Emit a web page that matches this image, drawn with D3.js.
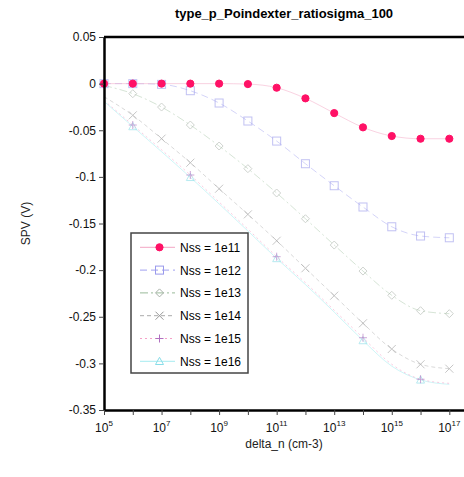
<!DOCTYPE html>
<html><head><meta charset="utf-8">
<script src="https://cdn.jsdelivr.net/npm/d3@7"></script>
<style>body{margin:0;background:#fff}svg{display:block;font-family:"Liberation Sans",Arial,sans-serif}</style>
</head><body><svg id="c" width="464" height="477"></svg>
<script>
const exponents = [5,6,7,8,9,10,11,12,13,14,15,16,17];
const seriesNames = ["Nss = 1e11","Nss = 1e12","Nss = 1e13","Nss = 1e14","Nss = 1e15","Nss = 1e16"];
const nss11 = [0,0,0,0,0,-0.0005,-0.0044,-0.0158,-0.0316,-0.0469,-0.0562,-0.0591,-0.0591];
const nss12 = [0,0,-0.0008,-0.0076,-0.0208,-0.0401,-0.0616,-0.0859,-0.1095,-0.1323,-0.1535,-0.1634,-0.1653];
const nss13 = [-0.002,-0.0108,-0.0251,-0.0444,-0.0669,-0.0912,-0.1173,-0.1449,-0.1731,-0.201,-0.227,-0.2435,-0.2467];
const nss14 = [-0.014,-0.034,-0.059,-0.0848,-0.1127,-0.1402,-0.1685,-0.198,-0.2274,-0.257,-0.2846,-0.301,-0.3057];
const nss15 = [-0.018,-0.0444,-0.071,-0.098,-0.127,-0.156,-0.1856,-0.2135,-0.243,-0.2725,-0.301,-0.317,-0.3214];
const nss16 = [-0.019,-0.046,-0.073,-0.1005,-0.129,-0.158,-0.1875,-0.2155,-0.245,-0.2755,-0.303,-0.3177,-0.3225];
const markerIdx = [
  [0,1,2,3,4,5,6,7,8,9,10,11,12],
  [0,1,2,3,4,5,6,7,8,9,10,11,12],
  [1,2,3,4,5,6,7,8,9,10,11,12],
  [1,2,3,4,5,6,7,8,9,10,11,12],
  [1,3,6,9,11],
  [1,3,6,9,11]
];
const yTicks = [0.05,0,-0.05,-0.1,-0.15,-0.2,-0.25,-0.3,-0.35];
const yTickLabels = ["0.05","0","-0.05","-0.1","-0.15","-0.2","-0.25","-0.3","-0.35"];
const xLabelExps = [5,7,9,11,13,15,17];
const allSeries = [nss11,nss12,nss13,nss14,nss15,nss16];

const styles = [
  {line:"#f3a6c4", op:0.5, dash:null, mark:"circle", mcol:"#ff1166", fill:"#ff1166", mop:1},
  {line:"#a0a0f0", op:0.45, dash:"7,4", mark:"square", mcol:"#9a9aec", fill:"none", mop:0.6},
  {line:"#99bb99", op:0.4, dash:"8,3,2,3", mark:"diamond", mcol:"#a8b0a8", fill:"none", mop:0.55},
  {line:"#aaaaaa", op:0.45, dash:"4,3", mark:"x", mcol:"#999999", fill:"none", mop:0.55},
  {line:"#f5a0c8", op:0.55, dash:"2,3", mark:"plus", mcol:"#b070c0", fill:"none", mop:0.6},
  {line:"#a6ecf0", op:0.55, dash:null, mark:"triangle", mcol:"#88dde8", fill:"none", mop:0.6}
];

const svg = d3.select("#c");
const L=104,R=464,T=37,B=410;
const x = d3.scaleLog().domain([1e5, Math.pow(10,17.51)]).range([L,R]);
const y = d3.scaleLinear().domain([-0.35,0.05]).range([B,T]);

svg.append("text").attr("x",(L+R)/2).attr("y",18).attr("text-anchor","middle")
  .attr("font-size",13).attr("font-weight","bold").text("type_p_Poindexter_ratiosigma_100");

function drawMarker(g, type, cx, cy, col, fill){
  const s=4;
  if(type==="circle") g.append("circle").attr("cx",cx).attr("cy",cy).attr("r",3.6).attr("fill",fill).attr("stroke",col);
  else if(type==="square") g.append("rect").attr("x",cx-s).attr("y",cy-s).attr("width",2*s).attr("height",2*s).attr("fill","none").attr("stroke",col);
  else if(type==="diamond") g.append("path").attr("d",`M${cx},${cy-s}L${cx+s},${cy}L${cx},${cy+s}L${cx-s},${cy}Z`).attr("fill","none").attr("stroke",col);
  else if(type==="x") g.append("path").attr("d",`M${cx-s},${cy-s}L${cx+s},${cy+s}M${cx-s},${cy+s}L${cx+s},${cy-s}`).attr("stroke",col);
  else if(type==="plus") g.append("path").attr("d",`M${cx-s},${cy}L${cx+s},${cy}M${cx},${cy-s}L${cx},${cy+s}`).attr("stroke",col);
  else if(type==="triangle") g.append("path").attr("d",`M${cx},${cy-s}L${cx+s},${cy+s*0.8}L${cx-s},${cy+s*0.8}Z`).attr("fill","none").attr("stroke",col);
}

const line = d3.line().curve(d3.curveMonotoneX).x(d=>x(Math.pow(10,d[0]))).y(d=>y(d[1]));
const plot = svg.append("g");
for(let i=allSeries.length-1;i>=0;i--){
  const st=styles[i];
  const pts = exponents.map((e,k)=>[e,allSeries[i][k]]);
  plot.append("path").attr("d",line(pts)).attr("fill","none").attr("stroke",st.line)
    .attr("stroke-opacity",st.op).attr("stroke-width",1).attr("stroke-dasharray",st.dash);
  const mg = plot.append("g").attr("stroke-width",1).attr("opacity", st.mop);
  markerIdx[i].forEach(k=>drawMarker(mg, st.mark, x(Math.pow(10,exponents[k])), y(allSeries[i][k]), st.mcol, st.fill));
}

const yAxis = svg.append("g").attr("transform",`translate(${L},0)`)
  .call(d3.axisLeft(y).tickValues(yTicks).tickFormat((d,i)=>yTickLabels[i]).tickSize(5).tickSizeOuter(0).tickPadding(3));
yAxis.select(".domain").attr("stroke-width",2.5).attr("stroke","#000");
yAxis.selectAll("text").attr("font-size",12).attr("font-family","Liberation Sans, Arial").attr("fill","#111");
yAxis.selectAll(".tick line").attr("stroke","#444");

const xAxis = svg.append("g").attr("transform",`translate(0,${B})`)
  .call(d3.axisBottom(x).tickValues(exponents.map(e=>Math.pow(10,e))).tickFormat("").tickSize(5).tickSizeOuter(0));
xAxis.select(".domain").attr("stroke-width",2.5).attr("stroke","#000");
xAxis.selectAll(".tick line").attr("stroke","#444");
xLabelExps.forEach(e=>{
  const t = svg.append("text").attr("x",x(Math.pow(10,e))).attr("y",B+22).attr("text-anchor","middle").attr("font-size",12).attr("fill","#111");
  t.append("tspan").text("10");
  t.append("tspan").attr("dy",-6).attr("font-size",8).text(e);
});
svg.append("line").attr("x1",L).attr("x2",R).attr("y1",T).attr("y2",T).attr("stroke","#000").attr("stroke-width",2.5);

svg.append("text").attr("x",(L+R)/2).attr("y",448).attr("text-anchor","middle").attr("font-size",12).attr("fill","#222").text("delta_n (cm-3)");
svg.append("text").attr("transform",`translate(30,${(T+B)/2}) rotate(-90)`).attr("text-anchor","middle").attr("font-size",12).attr("fill","#222").text("SPV (V)");

const lg = svg.append("g");
lg.append("rect").attr("x",131).attr("y",233).attr("width",117).attr("height",140).attr("fill","#fff").attr("stroke","#444").attr("stroke-width",1.5);
seriesNames.forEach((n,i)=>{
  const st=styles[i];
  const cy = 247.3 + i*22.8;
  lg.append("line").attr("x1",140).attr("x2",175).attr("y1",cy).attr("y2",cy).attr("stroke",st.line).attr("stroke-dasharray",st.dash).attr("stroke-width",1);
  const mg = lg.append("g").attr("stroke-width",1);
  drawMarker(mg, st.mark, 159.5, cy, st.mcol, st.fill);
  lg.append("text").attr("x",180).attr("y",cy+4.5).attr("font-size",12).attr("fill","#000").text(n);
});
</script></body></html>
